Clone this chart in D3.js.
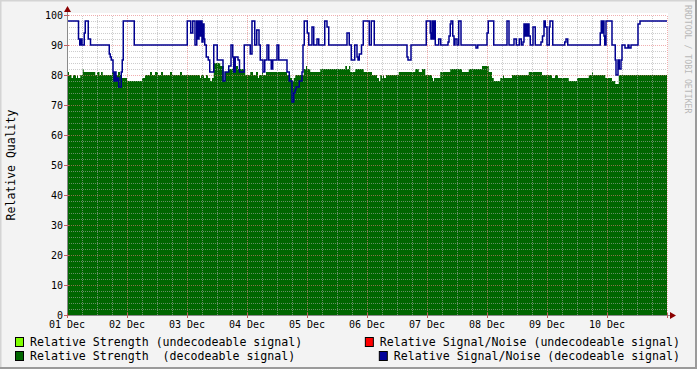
<!DOCTYPE html>
<html>
<head>
<meta charset="utf-8">
<script src="https://cdn.jsdelivr.net/npm/d3@7"></script>
<style>
  body { margin: 0; background: #f3f3f3; }
  svg { display: block; }
  text { font-family: "DejaVu Sans Mono", monospace; white-space: pre; }
</style>
</head>
<body>
<script>
// day labels on the x axis
var dayLabels = ["01 Dec", "02 Dec", "03 Dec", "04 Dec", "05 Dec", "06 Dec", "07 Dec", "08 Dec", "09 Dec", "10 Dec"];
var yTicks = [0, 10, 20, 30, 40, 50, 60, 70, 80, 90, 100];

// step series: [hours since 01 Dec 00:00, value]
var strengthDecoded = [
  [0, 81], [0.8, 80], [1.8, 79], [2.4, 80], [3.6, 79], [4.0, 80], [4.4, 79], [5.3, 80], [6.3, 82], [6.7, 81],
  [11.3, 80], [12.0, 81], [13.0, 80], [13.6, 81], [14.3, 80], [18.0, 81], [18.8, 80], [20.4, 81], [21.2, 80],
  [22.0, 79], [24.0, 78], [30.0, 79], [31.2, 80], [33.2, 81], [34.0, 80], [35.2, 81], [36.4, 80], [37.6, 81],
  [38.4, 80], [41.2, 81], [42.0, 80], [45.2, 81], [46.0, 80], [53.2, 79], [53.6, 80], [54.8, 79], [55.6, 80],
  [56.4, 79], [57.3, 78], [58.0, 79], [58.7, 84], [61.3, 83], [62.7, 78], [63.2, 81], [64.7, 82], [67.6, 83],
  [68.4, 82], [71.3, 80], [73.3, 81], [74.4, 80], [75.6, 81], [76.4, 79], [76.8, 80], [78.0, 81], [78.4, 80],
  [79.6, 81], [88.0, 80], [89.3, 79], [90.0, 78], [90.7, 79], [91.3, 80], [94.7, 82], [95.6, 83], [96.0, 82],
  [97.3, 81], [101.3, 82], [111.3, 83], [112.0, 82], [112.8, 83], [113.3, 81], [115.3, 82], [118.7, 81],
  [122.0, 80], [124.0, 79], [124.8, 78], [125.3, 80], [126.0, 79], [126.4, 80], [126.8, 79], [127.6, 80],
  [132.7, 81], [139.3, 82], [140.7, 81], [142.0, 82], [143.3, 80], [146.0, 79], [146.4, 78], [146.8, 79],
  [149.3, 81], [153.3, 82], [158.0, 81], [160.7, 82], [166.0, 83], [168.7, 81], [170.0, 79], [170.7, 78],
  [173.3, 79], [174.4, 80], [174.8, 79], [178.0, 80], [184.7, 81], [190.0, 80], [194.0, 79], [195.2, 80],
  [196.4, 79], [200.7, 78], [204.0, 79], [208.7, 80], [210.0, 81], [210.4, 80], [215.3, 79], [218.0, 78],
  [219.3, 77], [220.7, 80], [240, 80]
];

var snrDecoded = [
  [0, 98], [4.6, 92], [5.1, 90], [5.6, 92], [6.0, 90], [6.9, 94], [7.3, 98], [8.5, 92], [9.4, 90],
  [16.9, 87], [17.3, 86], [17.7, 85], [18.4, 81], [18.8, 78], [19.2, 81], [19.6, 78], [20.2, 79], [20.7, 76],
  [21.7, 81], [22.1, 85], [22.5, 98], [26.9, 90], [48.1, 98], [49.5, 94], [50.3, 98], [51.2, 90], [51.9, 98],
  [52.4, 92], [52.8, 98], [53.2, 93], [53.6, 98], [54.0, 91], [54.4, 97], [54.8, 92], [55.1, 90], [55.7, 86],
  [56.5, 85], [57.1, 81], [58.7, 90], [60.1, 85], [62.4, 78], [63.2, 81], [64.7, 83], [65.6, 90], [66.3, 86],
  [66.7, 81], [67.3, 86], [68.4, 85], [69.0, 81], [70.9, 90], [73.3, 87], [74.0, 98], [75.1, 90], [75.9, 95],
  [76.8, 90], [77.3, 85], [78.4, 81], [79.1, 85], [80.0, 90], [80.7, 85], [81.7, 82], [82.3, 85], [84.0, 90],
  [84.7, 85], [88.0, 81], [88.9, 78], [90.0, 71], [90.7, 74], [91.2, 75], [91.6, 76], [92.9, 78], [94.0, 81],
  [94.4, 90], [94.9, 98], [96.1, 94], [96.7, 90], [98.0, 96], [98.7, 90], [100.0, 92], [100.7, 90],
  [103.1, 98], [104.0, 96], [104.7, 90], [112.0, 94], [112.9, 90], [113.7, 85], [115.1, 90], [116.0, 86],
  [116.4, 85], [116.9, 87], [117.8, 90], [118.5, 98], [120.9, 90], [121.7, 98], [122.9, 90], [136.0, 86],
  [136.4, 85], [137.6, 90], [143.7, 98], [145.3, 94], [145.6, 92], [146.0, 98], [146.4, 92], [146.8, 98],
  [147.3, 90], [148.7, 92], [149.5, 90], [152.4, 91], [152.8, 93], [153.3, 97], [153.6, 98], [154.3, 93],
  [154.8, 90], [155.2, 92], [156.0, 90], [156.7, 98], [157.6, 90], [163.6, 89], [164.3, 90], [168.0, 94],
  [168.5, 98], [170.7, 90], [176.0, 98], [176.8, 90], [178.8, 92], [179.7, 90], [180.9, 92], [181.7, 90],
  [182.4, 91], [182.8, 97], [183.2, 93], [183.6, 97], [184.0, 93], [184.4, 97], [184.8, 93], [185.3, 90],
  [186.4, 96], [187.3, 90], [189.6, 91], [190.2, 93], [190.8, 98], [191.3, 96], [192.0, 90], [192.9, 96],
  [193.2, 98], [194.3, 90], [199.1, 91], [199.6, 92], [200.3, 90], [213.3, 94], [213.7, 98], [214.0, 94],
  [214.4, 98], [214.8, 93], [215.1, 90], [215.6, 98], [218.0, 90], [219.3, 85], [219.6, 80], [220.4, 85],
  [220.9, 82], [221.6, 85], [222.0, 90], [223.2, 89], [224.4, 90], [224.8, 89], [225.6, 90], [228.4, 97],
  [229.2, 98], [240, 98]
];

var legendItems = [
  { label: "Relative Strength (undecodeable signal)", color: "#80ff00" },
  { label: "Relative Signal/Noise (undecodeable signal)", color: "#ff0000" },
  { label: "Relative Strength  (decodeable signal)", color: "#006600" },
  { label: "Relative Signal/Noise (decodeable signal)", color: "#000099" }
];

var width = 697, height = 369;
var margin = { left: 67, top: 15, right: 30, bottom: 54 };
var plotW = 600, plotH = 300;

var svg = d3.select("body").append("svg")
  .attr("width", width)
  .attr("height", height);

// 3d frame
svg.append("rect").attr("width", width).attr("height", height).attr("fill", "#f3f3f3");
svg.append("path").attr("d", `M0,${height}V0H${width}`).attr("fill", "none")
  .attr("stroke", "#d4d4d4").attr("stroke-width", 3);
svg.append("path").attr("d", `M0,${height}H${width}V0`).attr("fill", "none")
  .attr("stroke", "#9a9a9a").attr("stroke-width", 4);

var x = d3.scaleLinear().domain([0, 240]).range([margin.left, margin.left + plotW]);
var y = d3.scaleLinear().domain([0, 100]).range([margin.top + plotH, margin.top]);

// canvas
svg.append("rect")
  .attr("x", x(0)).attr("y", y(100) - 2)
  .attr("width", plotW + 1).attr("height", plotH + 2)
  .attr("fill", "#ffffff");

var area = d3.area()
  .curve(d3.curveStepAfter)
  .x(d => x(d[0]))
  .y0(y(0))
  .y1(d => y(d[1]));

svg.append("path")
  .datum(strengthDecoded)
  .attr("d", area)
  .attr("fill", "#006600");

// grid
var grid = svg.append("g");
var minorX = d3.range(0, 241, 6).filter(h => h % 24 != 0);
var minorY = d3.range(0, 101, 2).filter(v => v % 10 != 0);

grid.selectAll(".gx").data(minorX).enter().append("line")
  .attr("x1", d => x(d) + 0.5).attr("x2", d => x(d) + 0.5)
  .attr("y1", y(0)).attr("y2", y(100))
  .attr("stroke", "rgba(170,170,170,0.6)").attr("stroke-dasharray", "1,1");
grid.selectAll(".gy").data(minorY).enter().append("line")
  .attr("x1", x(0)).attr("x2", x(240))
  .attr("y1", d => y(d) + 0.5).attr("y2", d => y(d) + 0.5)
  .attr("stroke", "rgba(170,170,170,0.6)").attr("stroke-dasharray", "1,1");

grid.selectAll(".mx").data(d3.range(24, 241, 24)).enter().append("line")
  .attr("x1", d => x(d) + 0.5).attr("x2", d => x(d) + 0.5)
  .attr("y1", y(0)).attr("y2", y(100))
  .attr("stroke", "rgba(230,120,120,0.6)").attr("stroke-dasharray", "1,1");
grid.selectAll(".my").data(yTicks.slice(1)).enter().append("line")
  .attr("x1", x(0)).attr("x2", x(240))
  .attr("y1", d => y(d) + 0.5).attr("y2", d => y(d) + 0.5)
  .attr("stroke", "rgba(230,120,120,0.6)").attr("stroke-dasharray", "1,1");

// signal/noise line
var line = d3.line()
  .curve(d3.curveStepAfter)
  .x(d => x(d[0]))
  .y(d => y(d[1]));

svg.append("path")
  .datum(snrDecoded)
  .attr("d", line)
  .attr("fill", "none")
  .attr("stroke", "#000090")
  .attr("stroke-width", 1.5);

// axes
var axisColor = "#8a8a8a";
svg.append("line")
  .attr("x1", x(0) + 0.5).attr("x2", x(0) + 0.5)
  .attr("y1", y(0) + 1).attr("y2", y(100) - 4)
  .attr("stroke", axisColor);
svg.append("line")
  .attr("x1", x(0) - 3).attr("x2", x(240) + 3)
  .attr("y1", y(0) + 0.5).attr("y2", y(0) + 0.5)
  .attr("stroke", axisColor);
svg.append("path")
  .attr("d", `M${x(0) - 3},${y(100) - 3}L${x(0) + 0.5},${y(100) - 9}L${x(0) + 4},${y(100) - 3}Z`)
  .attr("fill", "#8b0000");
svg.append("path")
  .attr("d", `M${x(240) + 3},${y(0) - 3}L${x(240) + 9},${y(0) + 0.5}L${x(240) + 3},${y(0) + 4}Z`)
  .attr("fill", "#8b0000");

// tick marks
svg.selectAll(".ty").data(yTicks).enter().append("line")
  .attr("x1", x(0) - 3).attr("x2", x(0) + 2)
  .attr("y1", d => y(d) + 0.5).attr("y2", d => y(d) + 0.5)
  .attr("stroke", "#c06060");
svg.selectAll(".tx").data(d3.range(0, 241, 24)).enter().append("line")
  .attr("x1", d => x(d) + 0.5).attr("x2", d => x(d) + 0.5)
  .attr("y1", y(0) - 2).attr("y2", y(0) + 3)
  .attr("stroke", "#c06060");

// tick labels
svg.selectAll(".ly").data(yTicks).enter().append("text")
  .attr("x", x(0) - 4)
  .attr("y", d => y(d) + 3.5)
  .attr("text-anchor", "end")
  .attr("font-size", "10px")
  .attr("fill", "#000")
  .text(d => d);

svg.selectAll(".lx").data(dayLabels).enter().append("text")
  .attr("x", (d, i) => x(i * 24))
  .attr("y", y(0) + 13)
  .attr("text-anchor", "middle")
  .attr("font-size", "10px")
  .attr("fill", "#000")
  .text(d => d);

// y title
svg.append("text")
  .attr("transform", `translate(15, ${y(50)}) rotate(-90)`)
  .attr("text-anchor", "middle")
  .attr("font-size", "11.5px")
  .attr("fill", "#000")
  .text("Relative Quality");

// watermark
svg.append("text")
  .attr("transform", "translate(685, 5) rotate(90)")
  .attr("font-size", "8.2px")
  .attr("fill", "#b8b8b8")
  .text("RRDTOOL / TOBI OETIKER");

// legend
var legendPos = [
  { x: 15, y: 337, anchor: "start" },
  { x: 680, y: 337, anchor: "end" },
  { x: 15, y: 351, anchor: "start" },
  { x: 680, y: 351, anchor: "end" }
];

legendItems.forEach(function(item, i) {
  var p = legendPos[i];
  var t = svg.append("text")
    .attr("font-size", "11.6px")
    .attr("fill", "#000")
    .attr("y", p.y + 8.5)
    .text(item.label);
  var tw = t.node().getComputedTextLength();
  var tx = p.anchor == "start" ? p.x + 15 : p.x - tw;
  t.attr("x", tx);
  svg.append("rect")
    .attr("x", tx - 14.5).attr("y", p.y + 0.5)
    .attr("width", 8).attr("height", 9)
    .attr("fill", item.color)
    .attr("stroke", "#000");
});
</script>
</body>
</html>
